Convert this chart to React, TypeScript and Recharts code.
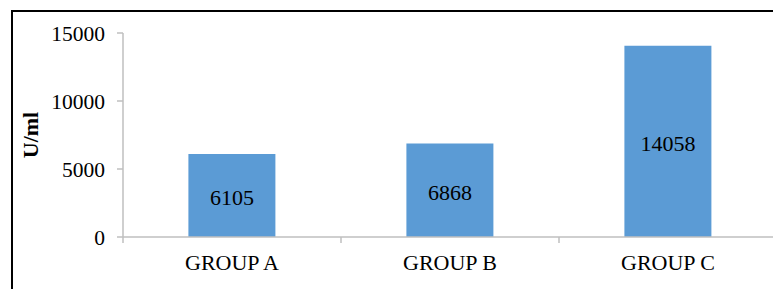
import { BarChart, Bar, XAxis, YAxis, LabelList } from 'recharts'

const groups = ['GROUP A', 'GROUP B', 'GROUP C']
const values = [6105, 6868, 14058]
const yTicks = [0, 5000, 10000, 15000]

const data = groups.map((g, i) => ({ name: g, value: values[i] }))

const FONT = 'Liberation Serif, Times New Roman, serif'
const AXIS = '#bfbfbf'

function GroupTick(props: any) {
  const { x, y, payload, index } = props
  const half = payload?.offset ?? 109
  const axisY = y - 8
  return (
    <g>
      <line x1={x - half} y1={axisY} x2={x - half} y2={axisY + 6} stroke={AXIS} strokeWidth={1.5} />
      {index === groups.length - 1 && (
        <line x1={x + half} y1={axisY} x2={x + half} y2={axisY + 6} stroke={AXIS} strokeWidth={1.5} />
      )}
      <text x={x} y={y + 25} textAnchor="middle" fill="#000" style={{ fontSize: 22, fontFamily: FONT }}>
        {payload.value}
      </text>
    </g>
  )
}

function YLabel(props: any) {
  const vb = props.viewBox
  const cx = vb.x + 17
  const cy = vb.y + vb.height / 2
  return (
    <text
      x={cx}
      y={cy}
      transform={`rotate(-90 ${cx} ${cy})`}
      textAnchor="middle"
      dominantBaseline="central"
      fill="#000"
      style={{ fontSize: 22, fontWeight: 'bold', fontFamily: FONT }}
    >
      U/ml
    </text>
  )
}

function BarValue(props: any) {
  const { x, y, width, height, value } = props
  return (
    <text
      x={x + width / 2}
      y={y + height / 2 + 2}
      textAnchor="middle"
      dominantBaseline="central"
      fill="#000"
      style={{ fontSize: 22, fontFamily: FONT }}
    >
      {value}
    </text>
  )
}

export default function App() {
  return (
    <div style={{ position: 'fixed', left: 0, top: 0, width: 773, height: 289, overflow: 'hidden', background: '#fff' }}>
      <div
        style={{
          position: 'absolute', left: 11, top: 10, width: 800, height: 300,
          borderLeft: '2px solid #000', borderTop: '2px solid #000',
        }}
      />
      <BarChart
        width={790}
        height={289}
        data={data}
        barCategoryGap="30%"
        margin={{ top: 33, right: 13, left: 13, bottom: 22 }}
      >
        <XAxis
          dataKey="name"
          height={30}
          tickSize={6}
          tickMargin={2}
          tickLine={false}
          axisLine={{ stroke: AXIS, strokeWidth: 1.5 }}
          tick={<GroupTick />}
          interval={0}
        />
        <YAxis
          width={110}
          domain={[0, 15000]}
          ticks={yTicks}
          tickSize={6}
          tickMargin={12}
          axisLine={{ stroke: AXIS, strokeWidth: 1.5 }}
          tickLine={{ stroke: AXIS, strokeWidth: 1.5 }}
          tick={{ fill: '#000', fontSize: 21.5, style: { fontFamily: FONT } }}
          label={<YLabel />}
        />
        <Bar dataKey="value" fill="#5b9bd5" isAnimationActive={false}>
          <LabelList dataKey="value" content={<BarValue />} />
        </Bar>
      </BarChart>
    </div>
  )
}
